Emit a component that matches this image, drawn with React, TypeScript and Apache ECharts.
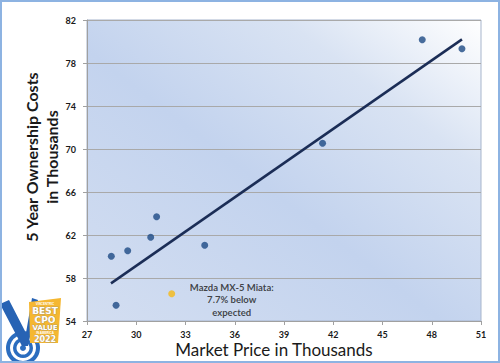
import React, { useEffect, useRef } from "react";
import * as echarts from "echarts";

const xTickMin = 27;
const xTickMax = 51;
const xTickStep = 3;
const yTickMin = 54;
const yTickMax = 82;
const yTickStep = 4;

const marketPrice = [28.48, 29.48, 30.88, 31.24, 34.17, 28.77, 41.35, 47.42, 49.84];
const ownershipCost = [60.02, 60.54, 61.79, 63.7, 61.04, 55.46, 70.53, 80.17, 79.33];
const mazdaPoint = [32.16, 56.54];
const trendX = [28.46, 49.84];
const trendY = [57.5, 80.2];

const xTitle = "Market Price in Thousands";
const yTitle = "5 Year Ownership Costs\nin Thousands";
const mazdaNote = "Mazda MX-5 Miata:\n7.7% below\nexpected";

const FONT = "Lato, 'Open Sans', sans-serif";

export default function App() {
  const ref = useRef<HTMLDivElement>(null);
  useEffect(() => {
    document.body.style.margin = "0";
    const chart = echarts.init(ref.current!, null, { renderer: "svg" });
    const points = marketPrice.map((x, i) => [x, ownershipCost[i]]);
    const trend = trendX.map((x, i) => [x, trendY[i]]);
    chart.setOption({
      animation: false,
      backgroundColor: "#ffffff",
      grid: {
        left: 87,
        right: 19,
        top: 20,
        bottom: 42,
        show: true,
        borderColor: "#a7b5cc",
        borderWidth: 1,
        backgroundColor: {
          type: "linear",
          x: 0,
          y: 1,
          x2: 1,
          y2: 0,
          colorStops: [
            { offset: 0, color: "#d3def1" },
            { offset: 0.45, color: "#c3d3ee" },
            { offset: 0.75, color: "#d9e3f3" },
            { offset: 1, color: "#ffffff" },
          ],
        },
      },
      xAxis: {
        type: "value",
        min: xTickMin,
        max: xTickMax,
        interval: xTickStep,
        axisLine: { show: true, lineStyle: { color: "#a0a0a0" } },
        axisTick: { show: true, length: 4, lineStyle: { color: "#a0a0a0" } },
        splitLine: { show: false },
        axisLabel: {
          color: "#1a1a1a",
          fontFamily: FONT,
          fontWeight: "bold",
          fontSize: 9,
          margin: 9,
        },
      },
      yAxis: {
        type: "value",
        min: yTickMin,
        max: yTickMax,
        interval: yTickStep,
        axisLine: { show: true, lineStyle: { color: "#a0a0a0" } },
        axisTick: { show: true, length: 4, lineStyle: { color: "#a0a0a0" } },
        splitLine: { show: true, lineStyle: { color: "#a9a9a9", width: 1 } },
        axisLabel: {
          color: "#1a1a1a",
          fontFamily: FONT,
          fontWeight: "bold",
          fontSize: 9,
          margin: 11,
        },
      },
      series: [
        {
          type: "line",
          data: trend,
          showSymbol: false,
          symbol: "none",
          lineStyle: { color: "#1b2d56", width: 2.5 },
          z: 2,
        },
        {
          type: "scatter",
          data: points,
          symbolSize: 7,
          itemStyle: { color: "#1d4a85" },
          z: 3,
        },
        {
          type: "scatter",
          data: [mazdaPoint],
          symbolSize: 7,
          itemStyle: { color: "#f6b915" },
          z: 3,
          label: {
            show: true,
            position: "inside",
            offset: [60, 6],
            align: "center",
            verticalAlign: "middle",
            formatter: mazdaNote,
            color: "#1a1a1a",
            fontFamily: FONT,
            fontWeight: "bold",
            fontSize: 9.5,
            lineHeight: 12.5,
          },
        },
      ],
      graphic: [
        {
          type: "rect",
          shape: { x: 1, y: 1, width: 498, height: 361 },
          style: { fill: "none", stroke: "#8db3e2", lineWidth: 2 },
          silent: true,
          z: 100,
        },
        {
          type: "text",
          x: 274,
          y: 349.5,
          style: {
            text: xTitle,
            fill: "#1a1a1a",
            font: `17px ${FONT}`,
            align: "center",
            verticalAlign: "middle",
          },
        },
        {
          type: "text",
          x: 41,
          y: 157,
          rotation: Math.PI / 2,
          style: {
            text: yTitle,
            fill: "#1a1a1a",
            font: `bold 16px ${FONT}`,
            lineHeight: 20,
            align: "center",
            verticalAlign: "middle",
          },
        },
        {
          type: "group",
          z: 50,
          children: [
            { type: "ring", shape: { cx: 23, cy: 348, r: 17, r0: 13 }, style: { fill: "#2b6dbf" } },
            { type: "ring", shape: { cx: 23, cy: 348, r: 10, r0: 6.5 }, style: { fill: "#2b6dbf" } },
            { type: "circle", shape: { cx: 23, cy: 348, r: 3 }, style: { fill: "#2b6dbf" } },
            {
              type: "polygon",
              shape: {
                points: [
                  [0, 304],
                  [9, 300],
                  [26, 333],
                  [32, 298],
                  [38, 300],
                  [28, 346],
                  [22, 346],
                ],
              },
              style: { fill: "#2763b4" },
            },
            {
              type: "polygon",
              shape: {
                points: [
                  [29, 302],
                  [61, 298],
                  [58, 343],
                  [30, 343],
                ],
              },
              style: { fill: "#f5b731" },
            },
            { type: "text", x: 45, y: 304, style: { text: "VINCENTRIC", fill: "#ffffff", font: "bold 3px sans-serif", align: "center", verticalAlign: "middle" } },
            { type: "text", x: 45, y: 311, style: { text: "BEST", fill: "#ffffff", font: "bold 9px 'DejaVu Sans', sans-serif", align: "center", verticalAlign: "middle", stroke: "#8a8a8a", lineWidth: 0.5 } },
            { type: "text", x: 45, y: 320, style: { text: "CPO", fill: "#ffffff", font: "bold 9px 'DejaVu Sans', sans-serif", align: "center", verticalAlign: "middle", stroke: "#8a8a8a", lineWidth: 0.5 } },
            { type: "text", x: 45, y: 328, style: { text: "VALUE", fill: "#ffffff", font: "bold 7px 'DejaVu Sans', sans-serif", align: "center", verticalAlign: "middle", stroke: "#8a8a8a", lineWidth: 0.5 } },
            { type: "text", x: 45, y: 333, style: { text: "IN AMERICA", fill: "#ffffff", font: "bold 3px sans-serif", align: "center", verticalAlign: "middle" } },
            { type: "text", x: 45, y: 339, style: { text: "2022", fill: "#ffffff", font: "bold 8px 'DejaVu Sans', sans-serif", align: "center", verticalAlign: "middle", stroke: "#8a8a8a", lineWidth: 0.5 } },
          ],
        },
      ],
    });
    return () => chart.dispose();
  }, []);
  return (
    <div
      ref={ref}
      style={{ position: "absolute", left: 0, top: 0, width: 500, height: 363 }}
    />
  );
}
